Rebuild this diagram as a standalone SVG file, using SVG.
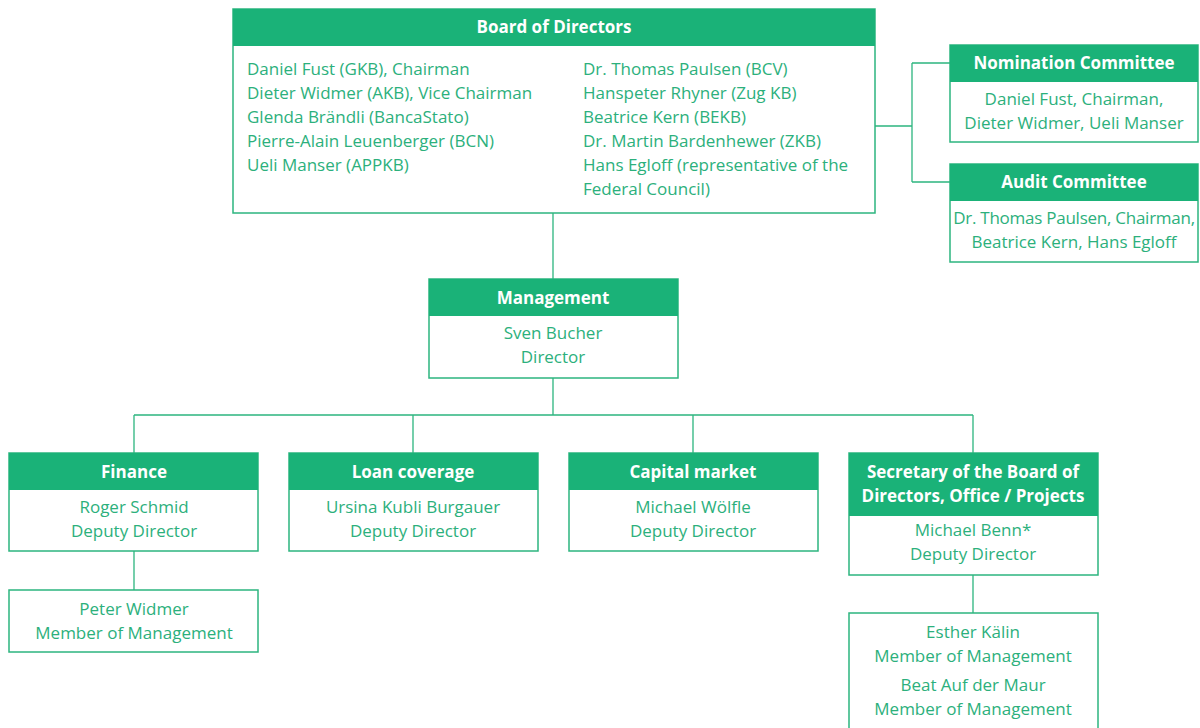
<svg xmlns="http://www.w3.org/2000/svg" width="1200" height="728" viewBox="0 0 1200 728">
<style>
.box{fill:#fff;stroke:#2db57f;stroke-width:1.5}
.hd{fill:#1ab278}
.ht{font-family:"Open Sans",sans-serif;font-weight:bold;font-size:17px;fill:#fff;text-anchor:middle}
.bt{font-family:"Open Sans",sans-serif;font-size:17px;fill:#2cb07c}
.c{text-anchor:middle}
.ln{fill:none;stroke:#2db57f;stroke-width:1.3}
</style>
<rect width="1200" height="728" fill="#fff"/>
<g id="connectors">
<path class="ln" d="M553 213V279M553 378V415M134 415H973M134 415V453M413 415V453M693 415V453M973 415V453M134 551V590M973 575V613M875 126H912M912 63V182M912 63H950M912 182H950"/>
</g>
<g id="board">
<rect class="box" x="233" y="9" width="642" height="204"/>
<rect class="hd" x="233" y="9" width="642" height="37"/>
<text class="ht" x="554" y="33">Board of Directors</text>
<text class="bt" x="247" y="75">Daniel Fust (GKB), Chairman</text>
<text class="bt" x="247" y="99">Dieter Widmer (AKB), Vice Chairman</text>
<text class="bt" x="247" y="123">Glenda Brändli (BancaStato)</text>
<text class="bt" x="247" y="147">Pierre-Alain Leuenberger (BCN)</text>
<text class="bt" x="247" y="171">Ueli Manser (APPKB)</text>
<text class="bt" x="583" y="75">Dr. Thomas Paulsen (BCV)</text>
<text class="bt" x="583" y="99">Hanspeter Rhyner (Zug KB)</text>
<text class="bt" x="583" y="123">Beatrice Kern (BEKB)</text>
<text class="bt" x="583" y="147">Dr. Martin Bardenhewer (ZKB)</text>
<text class="bt" x="583" y="171">Hans Egloff (representative of the</text>
<text class="bt" x="583" y="195">Federal Council)</text>
</g>
<g id="nomination">
<rect class="box" x="950" y="45" width="248" height="97"/>
<rect class="hd" x="950" y="45" width="248" height="37"/>
<text class="ht" x="1074" y="69">Nomination Committee</text>
<text class="bt c" x="1074" y="105">Daniel Fust, Chairman,</text>
<text class="bt c" x="1074" y="129">Dieter Widmer, Ueli Manser</text>
</g>
<g id="audit">
<rect class="box" x="950" y="164" width="248" height="98"/>
<rect class="hd" x="950" y="164" width="248" height="37"/>
<text class="ht" x="1074" y="188">Audit Committee</text>
<text class="bt c" x="1074" y="224" letter-spacing="-0.25">Dr. Thomas Paulsen, Chairman,</text>
<text class="bt c" x="1074" y="248">Beatrice Kern, Hans Egloff</text>
</g>
<g id="management">
<rect class="box" x="429" y="279" width="249" height="99"/>
<rect class="hd" x="429" y="279" width="249" height="37"/>
<text class="ht" x="553" y="304">Management</text>
<text class="bt c" x="553" y="339">Sven Bucher</text>
<text class="bt c" x="553" y="363">Director</text>
</g>
<g id="finance">
<rect class="box" x="9" y="453" width="249" height="98"/>
<rect class="hd" x="9" y="453" width="249" height="37"/>
<text class="ht" x="134" y="478">Finance</text>
<text class="bt c" x="134" y="513">Roger Schmid</text>
<text class="bt c" x="134" y="537">Deputy Director</text>
</g>
<g id="loan">
<rect class="box" x="289" y="453" width="249" height="98"/>
<rect class="hd" x="289" y="453" width="249" height="37"/>
<text class="ht" x="413" y="478">Loan coverage</text>
<text class="bt c" x="413" y="513">Ursina Kubli Burgauer</text>
<text class="bt c" x="413" y="537">Deputy Director</text>
</g>
<g id="capital">
<rect class="box" x="569" y="453" width="249" height="98"/>
<rect class="hd" x="569" y="453" width="249" height="37"/>
<text class="ht" x="693" y="478">Capital market</text>
<text class="bt c" x="693" y="513">Michael Wölfle</text>
<text class="bt c" x="693" y="537">Deputy Director</text>
</g>
<g id="secretary">
<rect class="box" x="849" y="453" width="249" height="122"/>
<rect class="hd" x="849" y="453" width="249" height="63"/>
<text class="ht" x="973" y="478">Secretary of the Board of</text>
<text class="ht" x="973" y="502">Directors, Office / Projects</text>
<text class="bt c" x="973" y="536">Michael Benn*</text>
<text class="bt c" x="973" y="560">Deputy Director</text>
</g>
<g id="widmer">
<rect class="box" x="9" y="590" width="249" height="62"/>
<text class="bt c" x="134" y="615">Peter Widmer</text>
<text class="bt c" x="134" y="639">Member of Management</text>
</g>
<g id="kaelin">
<rect class="box" x="849" y="613" width="249" height="130"/>
<text class="bt c" x="973" y="638">Esther Kälin</text>
<text class="bt c" x="973" y="662">Member of Management</text>
<text class="bt c" x="973" y="691">Beat Auf der Maur</text>
<text class="bt c" x="973" y="715">Member of Management</text>
</g>
</svg>
